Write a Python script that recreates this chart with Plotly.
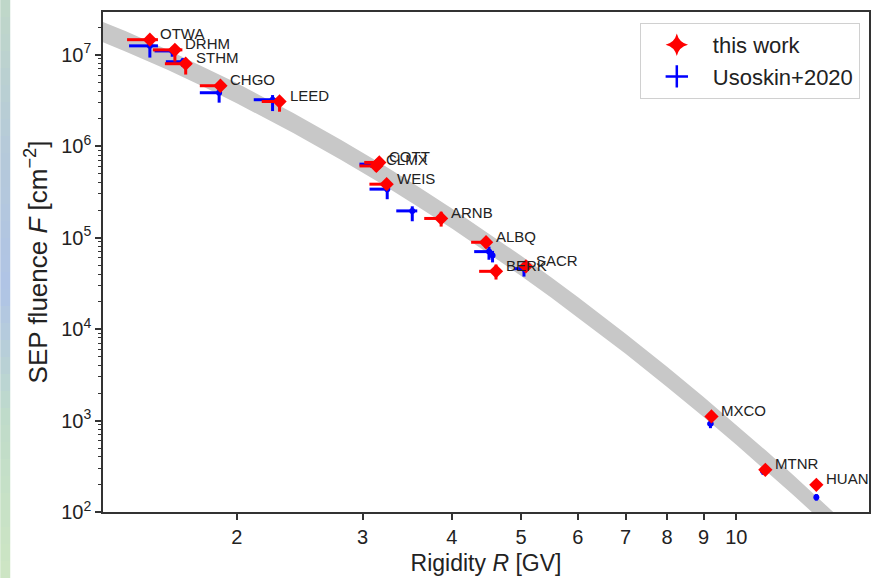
import math
import plotly.graph_objects as go

# ---- station data -------------------------------------------------------
stations = ["OTWA", "DRHM", "STHM", "CHGO", "LEED", "COTT", "CLMX", "WEIS",
            "ARNB", "ALBQ", "BERK", "SACR", "MXCO", "MTNR", "HUAN"]

# this work: effective rigidity [GV] and fluence [cm^-2]
R_this = [1.512, 1.639, 1.697, 1.898, 2.296, 3.166, 3.136, 3.242,
          3.864, 4.466, 4.611, 5.078, 9.23, 10.98, 12.94]
F_this = [1.46e7, 1.13e7, 7.97e6, 4.58e6, 3.08e6, 6.64e5, 6.08e5, 3.84e5,
          1.62e5, 8.9e4, 4.28e4, 4.85e4, 1.11e3, 289, 198]
R_this_minus = [0.107, 0.112, 0.110, 0.122, 0.128, 0.15, 0.166, 0.175,
                0.205, 0.21, 0.244, 0.10, 0.10, 0.10, 0.10]
R_this_plus = [0.04, 0.04, 0.03, 0.03, 0.03, 0.04, 0.04, 0.04,
               0.04, 0.04, 0.04, 0.04, 0.10, 0.10, 0.10]
F_this_minus = [1.5e6, 2.9e6, 1.9e6, 0.6e6, 0.7e6, 0.8e5, 0.8e5, 0.5e5,
                0.3e5, 1.2e4, 0.8e4, 0.5e4, 100, 25, 18]
F_this_plus = [1.5e6, 1.2e6, 1.0e6, 0.5e6, 0.4e6, 0.6e5, 0.6e5, 0.4e5,
               0.3e5, 1.0e4, 0.8e4, 0.5e4, 100, 25, 18]

# Usoskin+2020
R_us = [1.512, 1.625, 1.681, 1.89, 2.245, 3.12, 3.087, 3.248,
        3.521, 4.508, 4.56, 5.046, 9.20, 10.9, 12.94]
F_us = [1.25e7, 1.10e7, 8.38e6, 3.84e6, 3.22e6, 6.2e5, 6.36e5, 3.39e5,
        1.96e5, 7.03e4, 6.36e4, 4.58e4, 920, 280, 145]
R_us_minus = [0.098, 0.09, 0.089, 0.114, 0.132, 0.13, 0.117, 0.18,
              0.177, 0.21, 0.05, 0.16, 0.09, 0.09, 0.08]
R_us_plus = [0.04, 0.03, 0.02, 0.016, 0.03, 0.03, 0.03, 0.03,
             0.057, 0.044, 0.03, 0.08, 0.09, 0.09, 0.08]
F_us_minus = [3.2e6, 1.5e6, 1.0e6, 0.85e6, 0.8e6, 0.5e5, 0.5e5, 0.76e5,
              0.45e5, 1.3e4, 1.0e4, 0.83e4, 95, 25, 12]
F_us_plus = [1.4e6, 1.0e6, 0.8e6, 0.5e6, 0.4e6, 0.4e5, 0.4e5, 0.45e5,
             0.24e5, 0.94e4, 0.8e4, 0.75e4, 95, 25, 12]

# fitted spectrum uncertainty band (upper / lower edge)
band_R = [1.2, 1.4, 1.6, 1.8, 2.0, 2.4, 2.8, 3.2, 3.6, 4.0, 4.5, 5.0,
          5.5, 6.0, 7.0, 8.0, 9.0, 10.0, 11.0, 12.0, 13.0, 14.0, 15.0, 16.0]
band_hi = [2.94e7, 1.80e7, 1.135e7, 7.36e6, 4.90e6, 2.31e6, 1.17e6, 6.31e5,
           3.56e5, 2.08e5, 1.12e5, 6.32e4, 3.70e4, 2.24e4, 8.89e3, 3.87e3,
           1.81e3, 899, 469, 256, 145, 84.5, 50.8, 31.3]
band_lo = [1.77e7, 1.08e7, 6.84e6, 4.44e6, 2.95e6, 1.39e6, 7.06e5, 3.80e5,
           2.14e5, 1.26e5, 6.76e4, 3.81e4, 2.23e4, 1.35e4, 5.36e3, 2.33e3,
           1.09e3, 542, 282, 154, 87.3, 50.9, 30.6, 18.9]

x_ticks = [2, 3, 4, 5, 6, 7, 8, 9, 10]
y_decades = [2, 3, 4, 5, 6, 7]

FONT = "Liberation Sans, Arial, sans-serif"
RED = "#ff0000"
BLUE = "#0000ff"

fig = go.Figure()

# uncertainty band of the fit
fig.add_trace(go.Scatter(
    x=band_R + band_R[::-1], y=band_hi + band_lo[::-1],
    mode="lines", fill="toself", fillcolor="#c8c8c8",
    line=dict(width=0),
    hoverinfo="skip", showlegend=False))

# Usoskin+2020 crosses
fig.add_trace(go.Scatter(
    x=R_us, y=F_us, mode="markers",
    marker=dict(size=0, color=BLUE),
    error_x=dict(type="data", symmetric=False, array=R_us_plus,
                 arrayminus=R_us_minus, color=BLUE, thickness=3, width=0),
    error_y=dict(type="data", symmetric=False, array=F_us_plus,
                 arrayminus=F_us_minus, color=BLUE, thickness=3, width=0),
    showlegend=False, name="Usoskin+2020"))

# this work
fig.add_trace(go.Scatter(
    x=R_this, y=F_this, mode="markers",
    marker=dict(symbol="diamond", size=11, color=RED, line=dict(width=0)),
    error_x=dict(type="data", symmetric=False, array=R_this_plus,
                 arrayminus=R_this_minus, color=RED, thickness=3, width=0),
    error_y=dict(type="data", symmetric=False, array=F_this_plus,
                 arrayminus=F_this_minus, color=RED, thickness=3, width=0),
    showlegend=False, name="this work"))

# legend entries
fig.add_trace(go.Scatter(
    x=[None], y=[None], mode="markers", name="this work",
    marker=dict(symbol="star-diamond", size=22, color=RED), legendgroup="a"))
fig.add_trace(go.Scatter(
    x=[None], y=[None], mode="markers", name="Usoskin+2020",
    marker=dict(symbol="cross-thin-open", size=22, color=BLUE,
                line=dict(color=BLUE, width=2.5)), legendgroup="b"))

# station names next to the red points (log axes take log10 positions)
for name, r, f in zip(stations, R_this, F_this):
    fig.add_annotation(x=math.log10(r), y=math.log10(f), xref="x", yref="y",
                       text=name, showarrow=False, xanchor="left",
                       yanchor="middle", xshift=8, yshift=6,
                       font=dict(family=FONT, size=15, color="#222222"))

# soft coloured strip on the left page edge
stops = [(0, (192, 216, 200)), (150, (182, 202, 218)), (290, (176, 196, 230)),
         (420, (192, 220, 202)), (578, (206, 230, 196))]
H = 578
W_PLOT = 768
for y0 in range(0, H, 17):
    yc = y0 + 8.5
    c = stops[-1][1]
    for (a, ca), (b, cb) in zip(stops[:-1], stops[1:]):
        if a <= yc <= b:
            t = (yc - a) / (b - a)
            c = tuple(int(ca[i] + (cb[i] - ca[i]) * t) for i in range(3))
            break
    fig.add_shape(type="rect", xref="paper", yref="paper",
                  x0=(0 - 103) / W_PLOT, x1=(10 - 103) / W_PLOT,
                  y0=(512 - (y0 + 17)) / 500, y1=(512 - y0) / 500,
                  line=dict(width=0), fillcolor="rgb(%d,%d,%d)" % c,
                  layer="below")

fig.update_layout(
    width=872, height=578,
    margin=dict(l=103, r=1, t=12, b=66),
    paper_bgcolor="white", plot_bgcolor="white",
    font=dict(family=FONT, size=20, color="#222222"),
    legend=dict(x=0.988, y=0.978, xanchor="right", yanchor="top",
                bgcolor="white", bordercolor="#d0d0d0", borderwidth=1,
                font=dict(size=22), itemwidth=62, tracegroupgap=0),
    showlegend=True,
)

fig.update_xaxes(
    type="log", range=[0.114, 1.1856],
    tickvals=x_ticks, ticktext=[str(v) for v in x_ticks],
    ticks="outside", ticklen=6, tickwidth=1.5, tickcolor="#333333",
    showline=True, linecolor="#333333", linewidth=1.5, mirror=True,
    showgrid=False, zeroline=False,
    tickfont=dict(size=20),
    title=dict(text="Rigidity <i>R</i> [GV]", font=dict(size=23), standoff=8),
)

fig.update_yaxes(
    type="log", range=[2, 7.467],
    tickvals=[10 ** d for d in y_decades],
    ticktext=["10<sup>%d</sup>" % d for d in y_decades],
    ticks="outside", ticklen=6, tickwidth=1.5, tickcolor="#333333",
    minor=dict(ticks="outside", ticklen=3, tickwidth=1, tickcolor="#333333",
               tickvals=[k * 10 ** d for d in range(2, 8) for k in range(2, 10)]),
    showline=True, linecolor="#333333", linewidth=1.5, mirror=True,
    showgrid=False, zeroline=False,
    tickfont=dict(size=20),
    title=dict(text="SEP fluence <i>F</i> [cm<sup>\u22122</sup>]",
               font=dict(size=26), standoff=6),
)

fig.write_html("out.html")
